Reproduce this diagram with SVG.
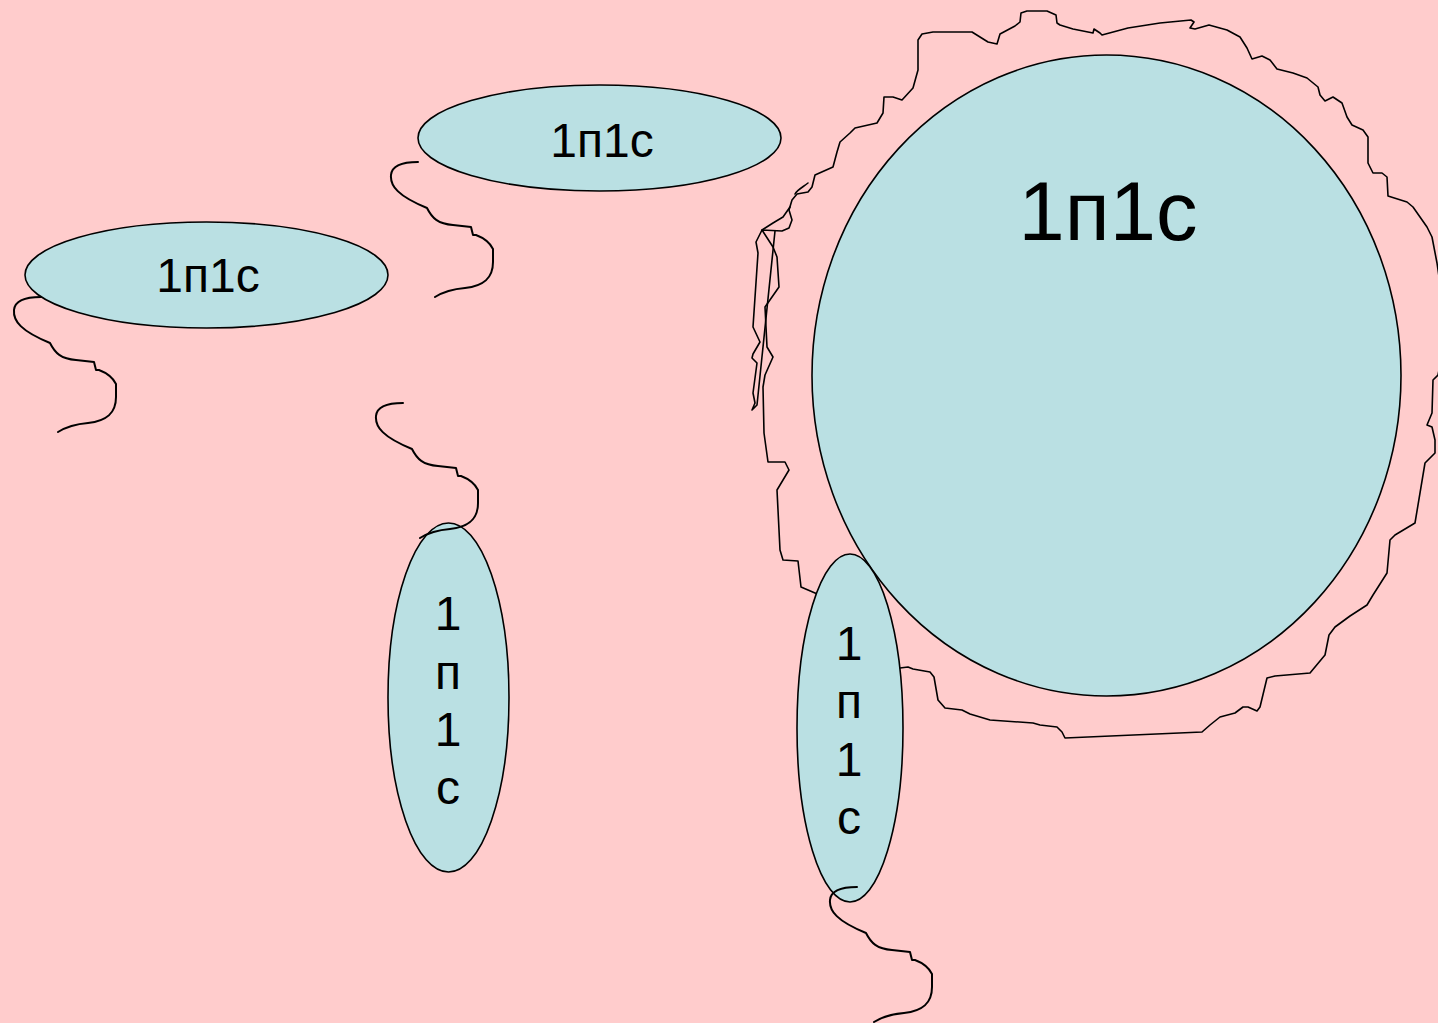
<svg xmlns="http://www.w3.org/2000/svg" xmlns:xlink="http://www.w3.org/1999/xlink" width="1438" height="1023" viewBox="0 0 1438 1023">
<style>
.cell{fill:#BAE0E3;stroke:#000;stroke-width:1.6}
.lbl{font-family:"Liberation Sans",Arial,sans-serif;fill:#000;text-anchor:middle}
.wave{fill:none;stroke:#000;stroke-width:1.6;stroke-linejoin:round;stroke-linecap:round}
.tail{fill:none;stroke:#000;stroke-width:2;stroke-linejoin:round;stroke-linecap:round}
</style>
<defs>
<path id="tailShape" d="M0,0 C-12,0 -26,2 -27,13 C-28,24 -20,34 9,46 C14,56 20,62 35,63 L53,65 L55,73 L58,73 C66,76 72,81 75,87 L75,100 C75,116 66,124 47,126 C35,127 25,130 17,135"/>
</defs>
<rect x="0" y="0" width="1438" height="1023" fill="#FFCCCC"/>

<g id="big-cell">
<ellipse class="cell" cx="1106.5" cy="375.5" rx="294.5" ry="320.5"/>
<text class="lbl" x="1108" y="240" font-size="83">1п1с</text>
</g>

<g id="membrane">
<path class="wave" d="M830,600 L815,593 L801,587 L798,561 L783,560 L780,550 L777,490 L789,470 L785,462 L768,462 L764,433 L763,387 L765,375 L773,357 L767,347 L765,307 L779,287 L777,257 L773,247 L762,230 L782,231 L789,228 L792,220 L789,210 L792,200 L797,194 L808,192 L812,187 L815,175 L833,167 L837,152 L840,142 L850,133 L855,128 L877,123 L883,113 L884,97 L893,97 L902,100 L913,88 L918,70 L918,40 L922,34 L933,32 L972,32 L988,42 L997,44 L1000,34 L1015,26 L1020,22 L1021,13 L1027,11 L1047,11 L1056,15 L1057,23 L1060,25 L1073,29 L1093,33 L1094,29 L1100,33 L1102,35 L1128,28 L1160,23 L1191,20 L1194,22 L1190,28 L1195,29 L1209,25 L1227,30 L1240,37 L1247,48 L1252,59 L1262,56 L1270,60 L1277,69 L1293,73 L1307,78 L1318,87 L1320,95 L1325,101 L1333,97 L1342,103 L1347,117 L1352,125 L1363,130 L1368,137 L1368,163 L1373,173 L1382,173 L1387,177 L1388,196 L1407,202 L1413,207 L1427,227 L1432,237 L1437,263 L1441,290 L1441,360 L1438,375 L1433,380 L1432,413 L1427,425 L1432,427 L1435,440 L1435,453 L1425,463 L1415,523 L1395,535 L1390,540 L1387,573 L1373,595 L1367,605 L1350,616 L1335,627 L1329,635 L1325,655 L1310,673 L1275,676 L1267,678 L1260,707 L1257,711 L1248,707 L1243,707 L1235,713 L1220,717 L1210,725 L1202,732 L1065,738 L1062,732 L1057,727 L1040,725 L1033,723 L990,720 L970,714 L962,710 L945,708 L938,700 L934,677 L930,672 L913,669 L908,667 L900,668 L880,670"/>
<path class="wave" d="M790,207 L783,217 L773,223 L762,230 L756,242 L758,253 L753,327 L760,342 L753,354 L752,358 L757,363 L753,393 L755,403 L752,410 L757,405 L775,231"/>
<path class="wave" d="M808,183 C803,187 797,190 795,194"/>
</g>

<g id="cell-top">
<ellipse class="cell" cx="599.5" cy="138" rx="181.5" ry="53"/>
<text class="lbl" x="602" y="157" font-size="48">1п1с</text>
</g>

<g id="cell-left">
<ellipse class="cell" cx="206.5" cy="275" rx="181.5" ry="53"/>
<text class="lbl" x="208" y="292" font-size="48">1п1с</text>
</g>

<g id="cell-vertical-1">
<ellipse class="cell" cx="448.5" cy="697.5" rx="60.5" ry="174.5"/>
<text class="lbl" font-size="48"><tspan x="448" y="630">1</tspan><tspan x="448" y="689">п</tspan><tspan x="448" y="746">1</tspan><tspan x="448" y="804">с</tspan></text>
</g>

<g id="cell-vertical-2">
<ellipse class="cell" cx="850" cy="728" rx="53" ry="174"/>
<text class="lbl" font-size="48"><tspan x="849" y="660">1</tspan><tspan x="849" y="718">п</tspan><tspan x="849" y="776">1</tspan><tspan x="849" y="834">с</tspan></text>
</g>

<g id="flagella">
<use href="#tailShape" class="tail" transform="translate(41,297)"/>
<use href="#tailShape" class="tail" transform="translate(418,162)"/>
<use href="#tailShape" class="tail" transform="translate(403,403)"/>
<use href="#tailShape" class="tail" transform="translate(857,887)"/>
</g>
</svg>
